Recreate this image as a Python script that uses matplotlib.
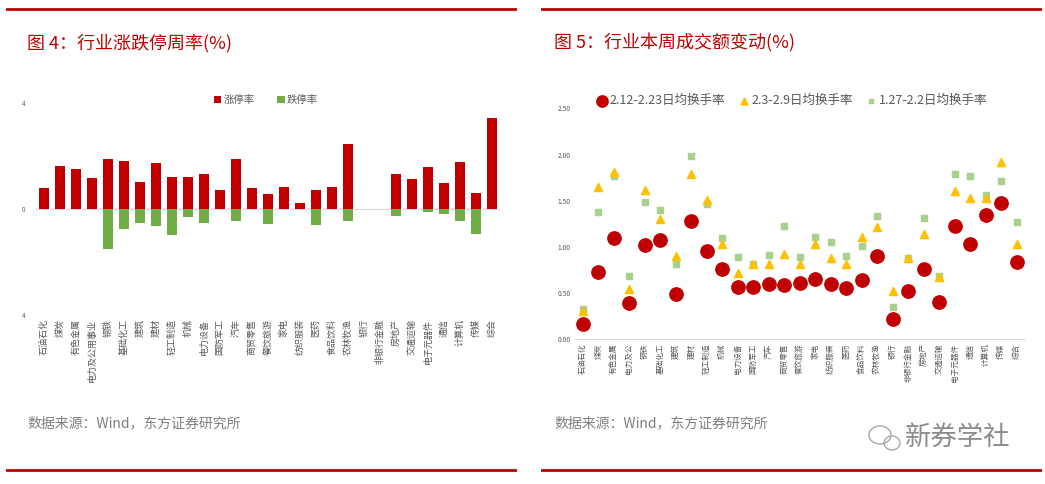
import numpy as np
import matplotlib.pyplot as plt
from matplotlib.lines import Line2D
from matplotlib.patches import Ellipse

plt.rcParams['font.family'] = ['Noto Sans CJK SC', 'DejaVu Sans']

# left chart: limit-up / limit-down rates by industry
industries = ["石油石化", "煤炭", "有色金属", "电力及公用事业", "钢铁", "基础化工", "建筑", "建材",
              "轻工制造", "机械", "电力设备", "国防军工", "汽车", "商贸零售", "餐饮旅游", "家电",
              "纺织服装", "医药", "食品饮料", "农林牧渔", "银行", "非银行金融", "房地产", "交通运输",
              "电子元器件", "通信", "计算机", "传媒", "综合"]
limit_up = [0.82, 1.65, 1.51, 1.19, 1.91, 1.82, 1.02, 1.76, 1.21, 1.21, 1.33, 0.74, 1.89, 0.80,
            0.59, 0.84, 0.23, 0.72, 0.84, 2.48, 0, 0, 1.33, 1.14, 1.58, 0.99, 1.80, 0.62, 3.46]
limit_down = [0, 0, 0, 0, -1.48, -0.73, -0.50, -0.63, -0.96, -0.29, -0.53, 0, -0.44, 0,
              -0.57, 0, 0, -0.58, 0, -0.45, 0, 0, -0.24, 0, -0.09, -0.16, -0.43, -0.94, 0]

# right chart: daily turnover rates
industries_r = ["石油石化", "煤炭", "有色金属", "电力及公", "钢铁", "基础化工", "建筑", "建材",
                "轻工制造", "机械", "电力设备", "国防军工", "汽车", "商贸零售", "餐饮旅游", "家电",
                "纺织服装", "医药", "食品饮料", "农林牧渔", "银行", "非银行金融", "房地产", "交通运输",
                "电子元器件", "通信", "计算机", "传媒", "综合"]
turn_0212 = [0.17, 0.725, 1.10, 0.39, 1.02, 1.07, 0.49, 1.28, 0.96, 0.765, 0.57, 0.57, 0.60, 0.585,
             0.61, 0.65, 0.60, 0.55, 0.64, 0.90, 0.22, 0.52, 0.76, 0.40, 1.23, 1.03, 1.35, 1.475, 0.84]
turn_0203 = [0.31, 1.65, 1.81, 0.54, 1.62, 1.30, 0.905, 1.79, 1.51, 1.035, 0.72, 0.82, 0.815, 0.92,
             0.815, 1.03, 0.88, 0.815, 1.11, 1.22, 0.52, 0.88, 1.14, 0.67, 1.61, 1.53, 1.53, 1.92, 1.03]
turn_0127 = [0.325, 1.375, 1.765, 0.68, 1.49, 1.395, 0.81, 1.98, 1.46, 1.10, 0.89, 0.82, 0.91, 1.23,
             0.89, 1.11, 1.05, 0.90, 1.01, 1.33, 0.35, 0.885, 1.31, 0.68, 1.79, 1.765, 1.565, 1.71, 1.27]

RED = "#C00000"
GRAY = "#595959"

fig = plt.figure(figsize=(10.45, 4.84), dpi=100)
W, H = 1045, 484

# frame lines and titles
for x0, x1 in [(7, 515), (542, 1040)]:
    for yy in [9, 470]:
        fig.add_artist(Line2D([x0 / W, x1 / W], [1 - yy / H, 1 - yy / H], color="#B30000", lw=2,
                              transform=fig.transFigure))
fig.text(27 / W, 1 - 43 / H, "图 4：行业涨跌停周率(%)", color=RED, fontsize=13, va="center")
fig.text(554 / W, 1 - 43 / H, "图 5：行业本周成交额变动(%)", color=RED, fontsize=13, va="center")
fig.text(27 / W, 1 - 423 / H, "数据来源：Wind，东方证券研究所", color="#7F7F7F", fontsize=10, va="center")
fig.text(554 / W, 1 - 423 / H, "数据来源：Wind，东方证券研究所", color="#7F7F7F", fontsize=10, va="center")
fig.text(905 / W, 1 - 437 / H, "新券学社", color="#8C8C8C", fontsize=19, va="center")
fig.add_artist(Ellipse((880 / W, 1 - 435 / H), 22 / W, 18 / H, fill=False, ec="#A6A6A6", lw=1,
                       transform=fig.transFigure))
fig.add_artist(Ellipse((892 / W, 1 - 443 / H), 16 / W, 14 / H, fill=False, ec="#A6A6A6", lw=1,
                       transform=fig.transFigure))

# left chart
ax1 = fig.add_axes([36 / W, 1 - 315.3 / H, (500 - 36) / W, (315.3 - 103.3) / H])
x = np.arange(len(industries))
ax1.bar(x, limit_up, width=0.68, color=RED, label="涨停率")
ax1.bar(x, limit_down, width=0.68, color="#70AD47", label="跌停率")
ax1.axhline(0, color="#D9D9D9", lw=0.8, zorder=0)
ax1.set_xlim(-0.5, len(industries) - 0.5)
ax1.set_ylim(-4, 4)
ax1.set_yticks([4, 0, -4])
ax1.set_yticklabels(["4", "0", "4"], fontsize=4.5, color=GRAY)
ax1.set_xticks(x)
ax1.set_xticklabels(industries, rotation=90, fontsize=6.5, color=GRAY, va="top")
ax1.tick_params(length=0, pad=3)
ax1.tick_params(axis="y", pad=8)
for s in ax1.spines.values():
    s.set_visible(False)
ax1.legend(loc="upper left", bbox_to_anchor=(214 / W, 1 - 95 / H), bbox_transform=fig.transFigure,
           ncol=2, frameon=False, fontsize=7.5, handlelength=0.7, handleheight=0.7, handletextpad=0.2,
           columnspacing=2.2, labelcolor=GRAY, borderaxespad=0, borderpad=0)

# right chart
ax2 = fig.add_axes([575 / W, 1 - 339.3 / H, (1024.4 - 575) / W, (339.3 - 108.3) / H])
xr = np.arange(len(industries_r))
ax2.scatter(xr, turn_0127, marker="s", s=14, color="#A9D18E", label="1.27-2.2日均换手率", zorder=2)
ax2.scatter(xr, turn_0203, marker="^", s=34, color="#FFC000", label="2.3-2.9日均换手率", zorder=3)
ax2.scatter(xr, turn_0212, marker="o", s=92, color=RED, label="2.12-2.23日均换手率", zorder=4)
ax2.set_xlim(-0.5, len(industries_r) - 0.5)
ax2.set_ylim(0, 2.5)
ax2.set_yticks([0, 0.5, 1.0, 1.5, 2.0, 2.5])
ax2.set_yticklabels([f"{v:.2f}" for v in [0, 0.5, 1.0, 1.5, 2.0, 2.5]], fontsize=4.8, color=GRAY)
ax2.set_xticks(xr)
ax2.set_xticklabels(industries_r, rotation=90, fontsize=5.5, color=GRAY, va="top")
ax2.tick_params(length=0, pad=3)
for k, s in ax2.spines.items():
    s.set_visible(k == "bottom")
ax2.spines["bottom"].set_color("#D9D9D9")
h, l = ax2.get_legend_handles_labels()
ax2.legend(h[::-1], l[::-1], loc="upper left", bbox_to_anchor=(596 / W, 1 - 94 / H),
           bbox_transform=fig.transFigure, ncol=3, frameon=False, fontsize=9, handlelength=0.9,
           handletextpad=0.2, columnspacing=1.0, labelcolor=GRAY, borderaxespad=0, borderpad=0,
           markerscale=0.85)

fig.savefig("out.png", dpi=100)
